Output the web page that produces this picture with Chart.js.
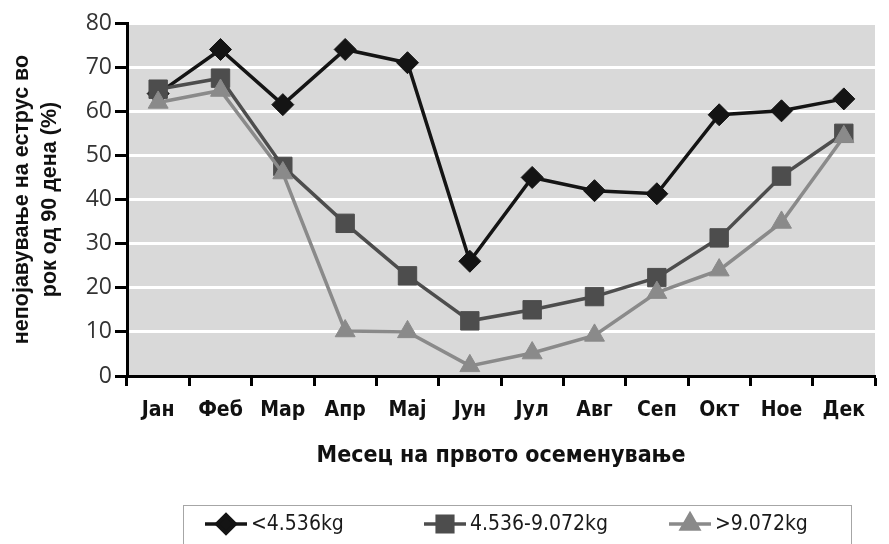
<!DOCTYPE html>
<html>
<head>
<meta charset="utf-8">
<script src="https://cdn.jsdelivr.net/npm/chart.js@4.4.1/dist/chart.umd.min.js"></script>
<style>
  html, body { margin: 0; padding: 0; background: #ffffff; }
  canvas { display: block; }
</style>
</head>
<body>
<canvas id="chart" width="889" height="544"></canvas>
<script>
// Months of first insemination
const months = ['Јан', 'Феб', 'Мар', 'Апр', 'Мај', 'Јун', 'Јул', 'Авг', 'Сеп', 'Окт', 'Ное', 'Дек'];

// Share of heifers not showing oestrus within 90 days (%), by milk group
const seriesLow = [64, 74, 61.5, 74, 71, 26, 45, 42, 41.3, 59.2, 60.1, 62.8];
const seriesMid = [65, 67.5, 47.5, 34.6, 22.7, 12.5, 15, 18, 22.3, 31.3, 45.3, 55];
const seriesHigh = [62, 64.7, 46, 10.2, 10, 2.3, 5.2, 9.2, 18.9, 24, 34.8, 54.2];

const seriesNames = ['<4.536kg', '4.536-9.072kg', '>9.072kg'];
const yTicks = [0, 10, 20, 30, 40, 50, 60, 70, 80];

const narrow = "'Liberation Sans Narrow', 'Arial Narrow', 'DejaVu Sans Condensed', sans-serif";

// Grey plot background painted behind grid and lines
const plotBackground = {
  id: 'plotBackground',
  beforeDraw(chart) {
    const { ctx, chartArea: a } = chart;
    ctx.save();
    ctx.fillStyle = '#d9d9d9';
    ctx.fillRect(a.left, a.top, a.right - a.left, a.bottom - a.top);
    ctx.restore();
  }
};

// Legend drawn as line + marker samples inside a framed box
const lineLegend = {
  id: 'lineLegend',
  afterDraw(chart, args, opts) {
    const { ctx } = chart;
    ctx.save();
    ctx.strokeStyle = '#a6a6a6';
    ctx.lineWidth = 1;
    ctx.strokeRect(opts.box[0] + 0.5, opts.box[1] + 0.5, opts.box[2], opts.box[3]);
    ctx.font = opts.font;
    ctx.textBaseline = 'middle';
    ctx.textAlign = 'left';
    chart.data.datasets.forEach((ds, i) => {
      const x0 = opts.starts[i];
      const y = opts.y;
      const len = opts.sampleLength;
      ctx.strokeStyle = ds.borderColor;
      ctx.lineWidth = 3.5;
      ctx.beginPath();
      ctx.moveTo(x0, y);
      ctx.lineTo(x0 + len, y);
      ctx.stroke();
      ctx.fillStyle = ds.pointBackgroundColor;
      ctx.strokeStyle = ds.pointBorderColor;
      Chart.helpers.drawPoint(ctx, {
        pointStyle: ds.pointStyle,
        radius: ds.pointRadius * 0.85,
        rotation: 0,
        borderWidth: 1
      }, x0 + len / 2, y);
      ctx.fillStyle = '#1a1a1a';
      ctx.fillText(ds.label, x0 + len + 4, y + 1);
    });
    ctx.restore();
  }
};

const colors = ['#141414', '#4d4d4d', '#8a8a8a'];
const styles = ['rectRot', 'rect', 'triangle'];
const radii = [11, 13, 11.5];
const values = [seriesLow, seriesMid, seriesHigh];

new Chart(document.getElementById('chart'), {
  type: 'line',
  data: {
    labels: months,
    datasets: values.map((v, i) => ({
      label: seriesNames[i],
      data: v,
      borderColor: colors[i],
      backgroundColor: colors[i],
      pointBackgroundColor: colors[i],
      pointBorderColor: colors[i],
      pointBorderWidth: 1,
      pointStyle: styles[i],
      pointRadius: radii[i],
      pointHoverRadius: radii[i],
      borderWidth: 3.5,
      tension: 0,
      fill: false,
      // lighter series are painted over darker ones
      order: 2 - i
    }))
  },
  options: {
    responsive: false,
    animation: false,
    events: [],
    layout: { padding: { top: 23, right: 1, left: 0, bottom: 0 } },
    plugins: {
      legend: { display: false },
      tooltip: { enabled: false },
      lineLegend: {
        box: [183, 505, 668, 60],
        starts: [205, 424, 669],
        sampleLength: 42,
        y: 524,
        font: "21px " + narrow
      }
    },
    scales: {
      x: {
        type: 'category',
        offset: true,
        afterFit(scale) { scale.height = 544 - 376; },
        grid: {
          offset: true,
          drawOnChartArea: false,
          drawTicks: true,
          tickLength: 10,
          tickColor: '#000000',
          tickWidth: 3
        },
        border: { display: true, color: '#000000', width: 3 },
        ticks: {
          color: '#111111',
          font: { family: narrow, size: 21, weight: 'bold' },
          padding: 12,
          maxRotation: 0,
          autoSkip: false
        },
        title: {
          display: true,
          text: 'Месец на првото осеменување',
          color: '#111111',
          font: { family: narrow, size: 23, weight: 'bold' },
          padding: { top: 0, bottom: 74 }
        }
      },
      y: {
        min: 0,
        max: 80,
        afterFit(scale) { scale.width = 127; },
        afterBuildTicks(scale) { scale.ticks = yTicks.map(v => ({ value: v })); },
        grid: {
          color: '#ffffff',
          lineWidth: 3,
          drawTicks: true,
          tickLength: 12,
          tickColor: '#000000',
          tickWidth: 3
        },
        border: { display: true, color: '#000000', width: 3 },
        ticks: {
          color: '#333333',
          font: { family: "'Open Sans', sans-serif", size: 23 },
          padding: 3
        },
        title: {
          display: true,
          text: ['непојавување на еструс во', 'рок од 90 дена (%)'],
          color: '#111111',
          font: { family: "'Liberation Sans', Arial, sans-serif", size: 21.5, weight: 'bold', lineHeight: 1.3 },
          padding: { top: 8, bottom: 0 }
        }
      }
    }
  },
  plugins: [plotBackground, lineLegend]
});
</script>
</body>
</html>
